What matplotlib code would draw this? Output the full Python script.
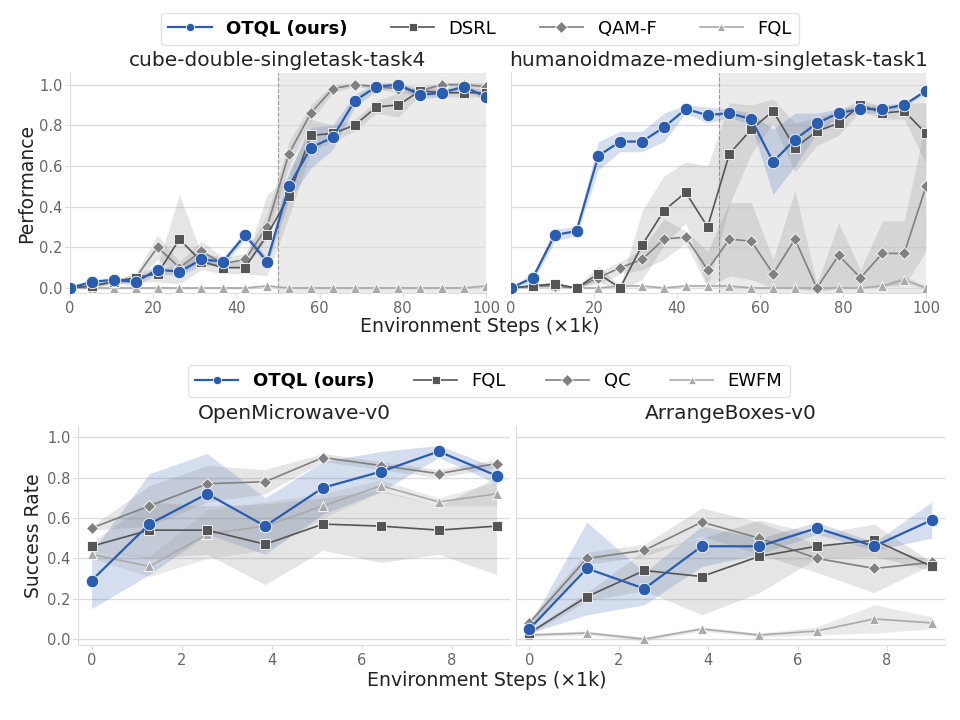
import numpy as np
import matplotlib
matplotlib.use("Agg")
from matplotlib import pyplot as plt

# ---- top row: 20 evaluation points over 0..100k env steps
steps_top = np.linspace(0, 100, 20)

titles_top = ["cube-double-singletask-task4", "humanoidmaze-medium-singletask-task1"]
names_top = ["OTQL (ours)", "DSRL", "QAM-F", "FQL"]

# cube-double-singletask-task4
otql_cube = [0.0, 0.03, 0.04, 0.03, 0.09, 0.08, 0.14, 0.13, 0.26, 0.13,
             0.50, 0.69, 0.74, 0.92, 0.99, 1.0, 0.95, 0.96, 0.99, 0.94]
otql_cube_std = [0.01, 0.01, 0.01, 0.02, 0.02, 0.02, 0.03, 0.02, 0.02, 0.02,
                 0.07, 0.10, 0.06, 0.03, 0.02, 0.01, 0.02, 0.02, 0.01, 0.02]
dsrl_cube = [0.0, 0.01, 0.03, 0.05, 0.07, 0.24, 0.13, 0.10, 0.10, 0.26,
             0.45, 0.75, 0.76, 0.80, 0.89, 0.90, 0.97, 0.96, 0.96, 0.96]
dsrl_cube_std = [0.0, 0.01, 0.01, 0.02, 0.04, 0.22, 0.04, 0.03, 0.03, 0.20,
                 0.10, 0.08, 0.04, 0.03, 0.03, 0.06, 0.02, 0.02, 0.02, 0.02]
qam_cube = [0.0, 0.01, 0.03, 0.05, 0.20, 0.10, 0.18, 0.12, 0.14, 0.30,
            0.66, 0.86, 0.98, 1.0, 0.99, 0.98, 0.97, 1.0, 1.0, 0.99]
qam_cube_std = [0.0, 0.01, 0.01, 0.02, 0.06, 0.03, 0.05, 0.03, 0.03, 0.06,
                0.06, 0.04, 0.02, 0.01, 0.01, 0.02, 0.02, 0.01, 0.01, 0.02]
fql_cube = [0.0] * 9 + [0.01] + [0.0] * 9 + [0.01]
fql_cube_std = [0.005] * 20

# humanoidmaze-medium-singletask-task1
otql_maze = [0.0, 0.05, 0.26, 0.28, 0.65, 0.72, 0.72, 0.79, 0.88, 0.85,
             0.86, 0.83, 0.62, 0.73, 0.81, 0.86, 0.88, 0.88, 0.90, 0.97]
otql_maze_std = [0.01, 0.02, 0.03, 0.02, 0.07, 0.05, 0.05, 0.07, 0.02, 0.04,
                 0.02, 0.03, 0.16, 0.13, 0.05, 0.02, 0.02, 0.02, 0.01, 0.01]
dsrl_maze = [0.0, 0.01, 0.02, 0.0, 0.07, 0.0, 0.21, 0.38, 0.47, 0.30,
             0.66, 0.78, 0.87, 0.69, 0.77, 0.81, 0.90, 0.86, 0.87, 0.76]
dsrl_maze_std = [0.0, 0.01, 0.01, 0.0, 0.04, 0.01, 0.17, 0.17, 0.15, 0.30,
                 0.25, 0.12, 0.06, 0.12, 0.07, 0.06, 0.03, 0.03, 0.04, 0.15]
qam_maze = [0.0, 0.01, 0.01, 0.0, 0.05, 0.10, 0.14, 0.24, 0.25, 0.09,
            0.24, 0.23, 0.07, 0.24, 0.0, 0.16, 0.05, 0.17, 0.17, 0.50]
qam_maze_std = [0.0, 0.01, 0.01, 0.0, 0.03, 0.03, 0.05, 0.10, 0.03, 0.09,
                0.18, 0.19, 0.07, 0.24, 0.02, 0.16, 0.04, 0.16, 0.16, 0.32]
fql_maze = [0.0, 0.01, 0.01, 0.0, 0.0, 0.01, 0.01, 0.0, 0.01, 0.01,
            0.01, 0.0, 0.0, 0.0, 0.0, 0.0, 0.0, 0.01, 0.04, 0.0]
fql_maze_std = [0.005] * 18 + [0.02, 0.005]

# ---- bottom row: 8 evaluation points over 0..9k env steps
steps_bot = np.linspace(0, 9, 8)

titles_bot = ["OpenMicrowave-v0", "ArrangeBoxes-v0"]
names_bot = ["OTQL (ours)", "FQL", "QC", "EWFM"]

otql_micro = [0.29, 0.57, 0.72, 0.56, 0.75, 0.83, 0.93, 0.81]
otql_micro_std = [0.14, 0.25, 0.20, 0.14, 0.13, 0.10, 0.03, 0.04]
fql_micro = [0.46, 0.54, 0.54, 0.47, 0.57, 0.56, 0.54, 0.56]
fql_micro_std = [0.02, 0.14, 0.12, 0.20, 0.13, 0.18, 0.12, 0.24]
qc_micro = [0.55, 0.66, 0.77, 0.78, 0.90, 0.86, 0.82, 0.87]
qc_micro_std = [0.01, 0.10, 0.09, 0.06, 0.02, 0.02, 0.02, 0.02]
ewfm_micro = [0.42, 0.36, 0.52, 0.56, 0.66, 0.76, 0.68, 0.72]
ewfm_micro_std = [0.02, 0.05, 0.12, 0.12, 0.06, 0.03, 0.02, 0.06]

otql_boxes = [0.05, 0.35, 0.25, 0.46, 0.46, 0.55, 0.46, 0.59]
otql_boxes_std = [0.02, 0.23, 0.08, 0.10, 0.04, 0.03, 0.02, 0.09]
fql_boxes = [0.03, 0.21, 0.34, 0.31, 0.41, 0.46, 0.49, 0.36]
fql_boxes_std = [0.01, 0.02, 0.10, 0.19, 0.18, 0.06, 0.08, 0.02]
qc_boxes = [0.08, 0.40, 0.44, 0.58, 0.50, 0.40, 0.35, 0.38]
qc_boxes_std = [0.02, 0.03, 0.03, 0.07, 0.08, 0.07, 0.12, 0.01]
ewfm_boxes = [0.02, 0.03, 0.0, 0.05, 0.02, 0.04, 0.10, 0.08]
ewfm_boxes_std = [0.01, 0.01, 0.01, 0.01, 0.01, 0.02, 0.07, 0.03]

BLUE = "#2a5cb0"
styles = [
    dict(color=BLUE, marker="o", ms=9, lw=1.6, zorder=6),
    dict(color="#555555", marker="s", ms=7.5, lw=1.2, zorder=5),
    dict(color="#808080", marker="D", ms=6.5, lw=1.2, zorder=4),
    dict(color="#aaaaaa", marker="^", ms=7.5, lw=1.2, zorder=3),
]
band_colors = [BLUE, "#808080", "#808080", "#999999"]

plt.rcParams["font.family"] = "DejaVu Sans"


def style_axes(ax, show_y):
    for s in ["top", "right"]:
        ax.spines[s].set_visible(False)
    for s in ["left", "bottom"]:
        ax.spines[s].set_color("#dddddd")
        ax.spines[s].set_linewidth(0.8)
    ax.set_yticks([0, 0.2, 0.4, 0.6, 0.8, 1.0])
    ax.grid(axis="y", color="#dddddd", lw=1.0)
    ax.set_axisbelow(True)
    ax.tick_params(colors="#dddddd", labelcolor="#666666", labelsize=10.5,
                   length=3.5, pad=2)
    if not show_y:
        ax.tick_params(axis="y", labelleft=False, length=0)


def draw(ax, x, series, stds):
    lines = []
    for i, (y, sd) in enumerate(zip(series, stds)):
        y = np.array(y)
        sd = np.array(sd)
        ax.fill_between(x, y - sd, y + sd, color=band_colors[i], alpha=0.2, lw=0,
                        zorder=2)
        st = styles[i]
        ln, = ax.plot(x, y, color=st["color"], marker=st["marker"], ms=st["ms"],
                      lw=st["lw"], mec="white", mew=0.6, zorder=st["zorder"])
        lines.append(ln)
    return lines


fig = plt.figure(figsize=(9.6, 7.2), dpi=100)

# top row
top_data = [
    ([otql_cube, dsrl_cube, qam_cube, fql_cube],
     [otql_cube_std, dsrl_cube_std, qam_cube_std, fql_cube_std]),
    ([otql_maze, dsrl_maze, qam_maze, fql_maze],
     [otql_maze_std, dsrl_maze_std, qam_maze_std, fql_maze_std]),
]
top_pos = [[0.0729, 0.593, 0.4333, 0.305], [0.5323, 0.593, 0.4323, 0.305]]
top_axes = []
for k in range(2):
    ax = fig.add_axes(top_pos[k])
    ax.axvspan(50, 100, color="#ebebeb", lw=0, zorder=0)
    ax.axvline(50, color="#999999", ls="--", lw=0.8, zorder=1)
    lines_top = draw(ax, steps_top, *top_data[k])
    ax.set_xlim(0, 100)
    ax.set_ylim(-0.025, 1.055)
    ax.set_xticks([0, 20, 40, 60, 80, 100])
    style_axes(ax, k == 0)
    ax.set_title(titles_top[k], fontsize=14.5, color="#222222", pad=5)
    top_axes.append(ax)
top_axes[0].set_ylabel("Performance", fontsize=13.5, color="#222222", labelpad=2)
fig.text(0.5, 0.547, "Environment Steps (\u00d71k)", ha="center", va="center",
         fontsize=13.6, color="#222222")

leg = fig.legend(lines_top, names_top, loc="center", bbox_to_anchor=(0.5, 0.96),
                 ncol=4, fontsize=13, handlelength=2.4, columnspacing=2.4,
                 frameon=True, edgecolor="#dddddd", fancybox=True)
leg.get_texts()[0].set_fontweight("bold")
for h in leg.legend_handles:
    h.set_markersize(6)

# bottom row
bot_data = [
    ([otql_micro, fql_micro, qc_micro, ewfm_micro],
     [otql_micro_std, fql_micro_std, qc_micro_std, ewfm_micro_std]),
    ([otql_boxes, fql_boxes, qc_boxes, ewfm_boxes],
     [otql_boxes_std, fql_boxes_std, qc_boxes_std, ewfm_boxes_std]),
]
bot_pos = [[0.0813, 0.104, 0.4500, 0.304], [0.5375, 0.104, 0.4470, 0.304]]
for k in range(2):
    ax = fig.add_axes(bot_pos[k])
    lines_bot = draw(ax, steps_bot, *bot_data[k])
    ax.set_xlim(-0.3, 9.3)
    ax.set_ylim(-0.03, 1.055)
    ax.set_xticks([0, 2, 4, 6, 8])
    style_axes(ax, k == 0)
    ax.set_title(titles_bot[k], fontsize=14.5, color="#222222", pad=5)
    if k == 0:
        ax.set_ylabel("Success Rate", fontsize=13.5, color="#222222", labelpad=3)
fig.text(0.507, 0.055, "Environment Steps (\u00d71k)", ha="center", va="center",
         fontsize=13.6, color="#222222")

leg2 = fig.legend(lines_bot, names_bot, loc="center", bbox_to_anchor=(0.509, 0.471),
                  ncol=4, fontsize=13, handlelength=2.4, columnspacing=2.2,
                  frameon=True, edgecolor="#dddddd", fancybox=True)
leg2.get_texts()[0].set_fontweight("bold")
for h in leg2.legend_handles:
    h.set_markersize(6)

fig.savefig("out.png", dpi=100)
